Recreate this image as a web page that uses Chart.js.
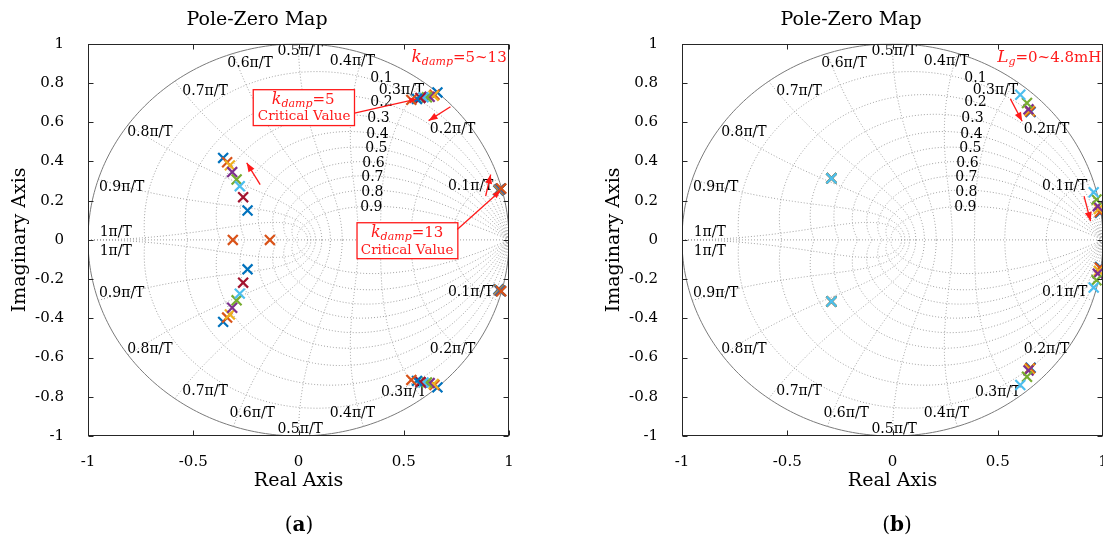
<!DOCTYPE html>
<html><head><meta charset="utf-8">
<script src="https://cdn.jsdelivr.net/npm/chart.js@4/dist/chart.umd.min.js"></script>
<style>
html,body{margin:0;padding:0;width:1103px;height:541px;overflow:hidden;background:#fff;}
.panel{position:absolute;top:0;width:600px;height:541px;}
.cap{position:absolute;top:512px;width:60px;text-align:center;font-family:"DejaVu Serif",serif;font-size:20px;color:#000;}
</style></head><body>
<div class="panel" style="left:0"><canvas id="ca" width="600" height="541"></canvas></div>
<div class="panel" style="left:594px"><canvas id="cb" width="600" height="541"></canvas></div>
<div class="cap" style="left:269px">(<b>a</b>)</div>
<div class="cap" style="left:867px">(<b>b</b>)</div>
<script>
const FONT = '"DejaVu Serif", serif';
// ---- axis ticks ----
const xTicks = [-1, -0.5, 0, 0.5, 1];
const yTicks = [-1, -0.8, -0.6, -0.4, -0.2, 0, 0.2, 0.4, 0.6, 0.8, 1];
// ---- z-plane grid definition ----
const dampGrid = [0.1, 0.2, 0.3, 0.4, 0.5, 0.6, 0.7, 0.8, 0.9];
const freqGrid = [0.1, 0.2, 0.3, 0.4, 0.5, 0.6, 0.7, 0.8, 0.9, 1.0]; // x pi/T
const dampLabels = ['0.1','0.2','0.3','0.4','0.5','0.6','0.7','0.8','0.9'];
const dampLabelPos = [[0.394,0.822],[0.394,0.700],[0.380,0.618],[0.375,0.537],[0.370,0.466],[0.356,0.389],[0.351,0.318],[0.351,0.242],[0.346,0.165]];
const freqLabels = ['0.1\u03c0/T','0.2\u03c0/T','0.3\u03c0/T','0.4\u03c0/T','0.5\u03c0/T','0.6\u03c0/T','0.7\u03c0/T','0.8\u03c0/T','0.9\u03c0/T','1\u03c0/T'];
const freqLabelUpper = [[0.818,0.272],[0.732,0.562],[0.489,0.762],[0.256,0.908],[0.008,0.959],[-0.230,0.898],[-0.444,0.756],[-0.706,0.547],[-0.840,0.267],[-0.868,0.038]];
const freqLabelLower = [[0.818,-0.267],[0.732,-0.557],[0.500,-0.776],[0.256,-0.883],[0.008,-0.964],[-0.220,-0.883],[-0.444,-0.771],[-0.706,-0.557],[-0.840,-0.272],[-0.868,-0.059]];

// ---- series (a): k_damp = 5 ... 13, poles [re, im] ----
const kdampNames = ['5','6','7','8','9','10','11','12','13'];
const colorsA = ['#0072BD','#D95319','#EDB120','#7E2F8E','#77AC30','#4DBEEE','#A2142F','#0072BD','#D95319'];
const kd05 = [[0.660,0.752],[0.660,-0.752],[-0.358,0.418],[-0.358,-0.418],[0.950,0.252],[0.950,-0.252]];
const kd06 = [[0.646,0.740],[0.646,-0.740],[-0.339,0.396],[-0.339,-0.396],[0.952,0.254],[0.952,-0.254]];
const kd07 = [[0.642,0.735],[0.642,-0.735],[-0.326,0.380],[-0.326,-0.380],[0.954,0.255],[0.954,-0.255]];
const kd08 = [[0.623,0.730],[0.623,-0.730],[-0.315,0.346],[-0.315,-0.346],[0.955,0.257],[0.955,-0.257]];
const kd09 = [[0.610,0.727],[0.610,-0.727],[-0.294,0.308],[-0.294,-0.308],[0.957,0.258],[0.957,-0.258]];
const kd10 = [[0.594,0.727],[0.594,-0.727],[-0.279,0.274],[-0.279,-0.274],[0.958,0.259],[0.958,-0.259]];
const kd11 = [[0.579,0.724],[0.579,-0.724],[-0.263,0.218],[-0.263,-0.218],[0.960,0.260],[0.960,-0.260]];
const kd12 = [[0.563,0.719],[0.563,-0.719],[-0.242,0.150],[-0.242,-0.150],[0.961,0.261],[0.961,-0.261]];
const kd13 = [[0.536,0.714],[0.536,-0.714],[-0.312,0.000],[-0.136,0.000],[0.963,0.262],[0.963,-0.262]];
const seriesA = [kd05, kd06, kd07, kd08, kd09, kd10, kd11, kd12, kd13];

// ---- series (b): L_g = 0 ... 4.8 mH ----
const lgNames = ['0','0.96','1.92','2.88','3.84','4.8'];
const colorsB = ['#0072BD','#D95319','#EDB120','#7E2F8E','#77AC30','#4DBEEE'];
const lg1 = [[0.656,0.652],[0.656,-0.652],[0.986,0.138],[0.986,-0.138],[-0.290,0.314],[-0.290,-0.314]];
const lg2 = [[0.654,0.655],[0.654,-0.655],[0.985,0.142],[0.985,-0.142],[-0.290,0.314],[-0.290,-0.314]];
const lg3 = [[0.650,0.660],[0.650,-0.660],[0.980,0.158],[0.980,-0.158],[-0.290,0.314],[-0.290,-0.314]];
const lg4 = [[0.646,0.666],[0.646,-0.666],[0.975,0.172],[0.975,-0.172],[-0.290,0.314],[-0.290,-0.314]];
const lg5 = [[0.639,0.698],[0.639,-0.698],[0.969,0.206],[0.969,-0.206],[-0.290,0.314],[-0.290,-0.314]];
const lg6 = [[0.607,0.740],[0.607,-0.740],[0.956,0.243],[0.956,-0.243],[-0.290,0.314],[-0.290,-0.314]];
const seriesB = [lg1, lg2, lg3, lg4, lg5, lg6];

// ---- annotations (data coordinates) ----
const RED = '#ff1a1a';
const annotA = {
  texts: [
    {at:[0.989,0.929], align:'right', parts:[{t:'k',it:1,s:17},{t:'damp',it:1,s:11,dy:4},{t:'=5~13',s:15}]},
    {at:[0.022,0.712], align:'center', parts:[{t:'k',it:1,s:16},{t:'damp',it:1,s:11,dy:4},{t:'=5',s:15}]},
    {at:[0.027,0.628], align:'center', parts:[{t:'Critical Value',s:13.5}]},
    {at:[0.516,0.035], align:'center', parts:[{t:'k',it:1,s:16},{t:'damp',it:1,s:11,dy:4},{t:'=13',s:15}]},
    {at:[0.516,-0.052], align:'center', parts:[{t:'Critical Value',s:13.5}]}
  ],
  boxes: [[-0.215,0.766,0.266,0.583],[0.278,0.0875,0.757,-0.0957]],
  lines: [[0.266,0.646,0.560,0.718],[0.754,0.053,0.957,0.248]],
  arrows: [[0.722,0.679,0.618,0.608],[-0.182,0.282,-0.246,0.393],[0.889,0.223,0.913,0.333]]
};
const annotB = {
  texts: [
    {at:[0.992,0.929], align:'right', parts:[{t:'L',it:1,s:17},{t:'g',it:1,s:11,dy:4},{t:'=0~4.8mH',s:15}]}
  ],
  boxes: [], lines: [],
  arrows: [[0.560,0.719,0.616,0.605],[0.910,0.223,0.941,0.096]]
};

function drawRich(ctx, parts, x, y, align){
  let w = 0;
  parts.forEach(p=>{ctx.font=(p.it?'italic ':'')+p.s+'px '+FONT; p.w=ctx.measureText(p.t).width; w+=p.w;});
  let cx = align==='left' ? x : (align==='right' ? x - w : x - w/2);
  ctx.textAlign='left'; ctx.textBaseline='middle';
  parts.forEach(p=>{ctx.font=(p.it?'italic ':'')+p.s+'px '+FONT; ctx.fillText(p.t, cx, y+(p.dy||0)); cx+=p.w;});
}
function arrowHead(ctx, x0, y0, x1, y1, len, wid){
  const a = Math.atan2(y1-y0, x1-x0);
  ctx.beginPath();
  ctx.moveTo(x1, y1);
  ctx.lineTo(x1 - len*Math.cos(a) + wid*Math.sin(a), y1 - len*Math.sin(a) - wid*Math.cos(a));
  ctx.lineTo(x1 - len*Math.cos(a) - wid*Math.sin(a), y1 - len*Math.sin(a) + wid*Math.cos(a));
  ctx.closePath(); ctx.fill();
}

const zgridPlugin = {
  id:'zgrid',
  beforeDatasetsDraw(chart){
    const {ctx, chartArea:a, scales:{x, y}} = chart;
    const P = (re, im) => [x.getPixelForValue(re), y.getPixelForValue(im)];
    ctx.save();
    ctx.beginPath(); ctx.rect(a.left, a.top, a.right-a.left, a.bottom-a.top); ctx.clip();
    ctx.lineWidth = 1; ctx.strokeStyle = '#a0a0a0'; ctx.setLineDash([1,2]);
    dampGrid.forEach(z=>{
      const m = Math.tan(Math.asin(z));
      [1,-1].forEach(sg=>{
        ctx.beginPath();
        for(let i=0;i<=300;i++){
          const th = Math.PI*i/300, r = Math.exp(-m*th);
          const p = P(r*Math.cos(th), sg*r*Math.sin(th));
          i ? ctx.lineTo(p[0],p[1]) : ctx.moveTo(p[0],p[1]);
        }
        ctx.stroke();
      });
    });
    freqGrid.forEach(f=>{
      const wn = f*Math.PI;
      [1,-1].forEach(sg=>{
        ctx.beginPath();
        for(let i=0;i<=200;i++){
          const z = i/200, r = Math.exp(-z*wn), th = wn*Math.sqrt(1-z*z);
          const p = P(r*Math.cos(th), sg*r*Math.sin(th));
          i ? ctx.lineTo(p[0],p[1]) : ctx.moveTo(p[0],p[1]);
        }
        ctx.stroke();
      });
    });
    let p0 = P(-1,0), p1 = P(1,0);
    ctx.beginPath(); ctx.moveTo(p0[0],p0[1]); ctx.lineTo(p1[0],p1[1]); ctx.stroke();
    ctx.setLineDash([]); ctx.strokeStyle = '#7a7a7a';
    ctx.beginPath();
    for(let i=0;i<=360;i++){
      const th = 2*Math.PI*i/360, p = P(Math.cos(th), Math.sin(th));
      i ? ctx.lineTo(p[0],p[1]) : ctx.moveTo(p[0],p[1]);
    }
    ctx.stroke();
    ctx.fillStyle = '#000'; ctx.textAlign='center'; ctx.textBaseline='middle';
    ctx.font = '14px '+FONT;
    dampLabels.forEach((t,i)=>{const p=P(dampLabelPos[i][0],dampLabelPos[i][1]); ctx.fillText(t,p[0],p[1]);});
    freqLabels.forEach((t,i)=>{
      let p=P(freqLabelUpper[i][0],freqLabelUpper[i][1]); ctx.fillText(t,p[0],p[1]);
      p=P(freqLabelLower[i][0],freqLabelLower[i][1]); ctx.fillText(t,p[0],p[1]);
    });
    ctx.restore();
  },
  afterDatasetsDraw(chart){
    const {ctx, chartArea:a, scales:{x, y}} = chart;
    const an = chart.options.plugins.zgrid.annot;
    const P = (re, im) => [x.getPixelForValue(re), y.getPixelForValue(im)];
    ctx.save();
    ctx.strokeStyle = RED; ctx.fillStyle = RED; ctx.lineWidth = 1.3;
    an.boxes.forEach(b=>{
      const p=P(b[0],b[1]), q=P(b[2],b[3]);
      ctx.fillStyle='#fff'; ctx.fillRect(p[0],p[1],q[0]-p[0],q[1]-p[1]);
      ctx.strokeRect(p[0],p[1],q[0]-p[0],q[1]-p[1]);
    });
    ctx.fillStyle = RED;
    an.lines.forEach(l=>{
      const p=P(l[0],l[1]), q=P(l[2],l[3]);
      ctx.beginPath(); ctx.moveTo(p[0],p[1]); ctx.lineTo(q[0],q[1]); ctx.stroke();
      arrowHead(ctx,p[0],p[1],q[0],q[1],7,3);
    });
    an.arrows.forEach(l=>{
      const p=P(l[0],l[1]), q=P(l[2],l[3]);
      ctx.beginPath(); ctx.moveTo(p[0],p[1]); ctx.lineTo(q[0],q[1]); ctx.stroke();
      arrowHead(ctx,p[0],p[1],q[0],q[1],9,3.5);
    });
    an.texts.forEach(tx=>{const p=P(tx.at[0],tx.at[1]); drawRich(ctx, tx.parts, p[0], p[1], tx.align);});
    ctx.strokeStyle='#262626'; ctx.lineWidth=1;
    const L=Math.round(a.left)+0.5, R=Math.round(a.right)-0.5, T=Math.round(a.top)+0.5, B=Math.round(a.bottom)-0.5;
    ctx.strokeRect(L,T,R-L,B-T);
    ctx.beginPath();
    xTicks.forEach(v=>{const px=Math.round(x.getPixelForValue(v))+0.5; ctx.moveTo(px,B); ctx.lineTo(px,B-5); ctx.moveTo(px,T); ctx.lineTo(px,T+5);});
    yTicks.forEach(v=>{const py=Math.round(y.getPixelForValue(v))+0.5; ctx.moveTo(L,py); ctx.lineTo(L+5,py); ctx.moveTo(R,py); ctx.lineTo(R-5,py);});
    ctx.stroke();
    ctx.restore();
  }
};

function makeDatasets(series, names, colors){
  return series.map((s,i)=>({
    label: names[i],
    data: s.map(p=>({x:p[0], y:p[1]})),
    order: series.length - i,
    showLine:false, pointStyle:'crossRot', pointRadius:7, pointBorderWidth:2.2,
    borderColor: colors[i], backgroundColor: colors[i]
  }));
}

function makeChart(id, datasets, annot){
  return new Chart(document.getElementById(id), {
    type:'scatter',
    data:{datasets},
    options:{
      responsive:false, animation:false, devicePixelRatio:1, events:[],
      layout:{padding:{left:5,right:91,top:0,bottom:45}},
      plugins:{
        legend:{display:false}, tooltip:{enabled:false},
        title:{display:true, text:'Pole-Zero Map', color:'#000', font:{family:FONT,size:19,weight:'normal'}, padding:{top:9,bottom:12}},
        zgrid:{annot}
      },
      scales:{
        x:{type:'linear', min:-1, max:1,
           afterBuildTicks:s=>{s.ticks = xTicks.map(v=>({value:v}));},
           afterFit:s=>{s.height = 60;},
           grid:{display:false}, border:{display:false},
           ticks:{color:'#000', font:{family:FONT,size:15}, padding:9, maxRotation:0, autoSkip:false, callback:v=>String(v)},
           title:{display:true, text:'Real Axis', color:'#000', font:{family:FONT,size:19}, padding:{top:4,bottom:4}}},
        y:{type:'linear', min:-1, max:1,
           afterBuildTicks:s=>{s.ticks = yTicks.map(v=>({value:v}));},
           afterFit:s=>{s.width = 83;},
           grid:{display:false}, border:{display:false},
           ticks:{color:'#000', font:{family:FONT,size:15}, padding:16, autoSkip:false, callback:v=>String(v)},
           title:{display:true, text:'Imaginary Axis', color:'#000', font:{family:FONT,size:19}, padding:{top:4,bottom:4}}}
      }
    },
    plugins:[zgridPlugin]
  });
}

makeChart('ca', makeDatasets(seriesA, kdampNames, colorsA), annotA);
makeChart('cb', makeDatasets(seriesB, lgNames, colorsB), annotB);
</script>
</body></html>
